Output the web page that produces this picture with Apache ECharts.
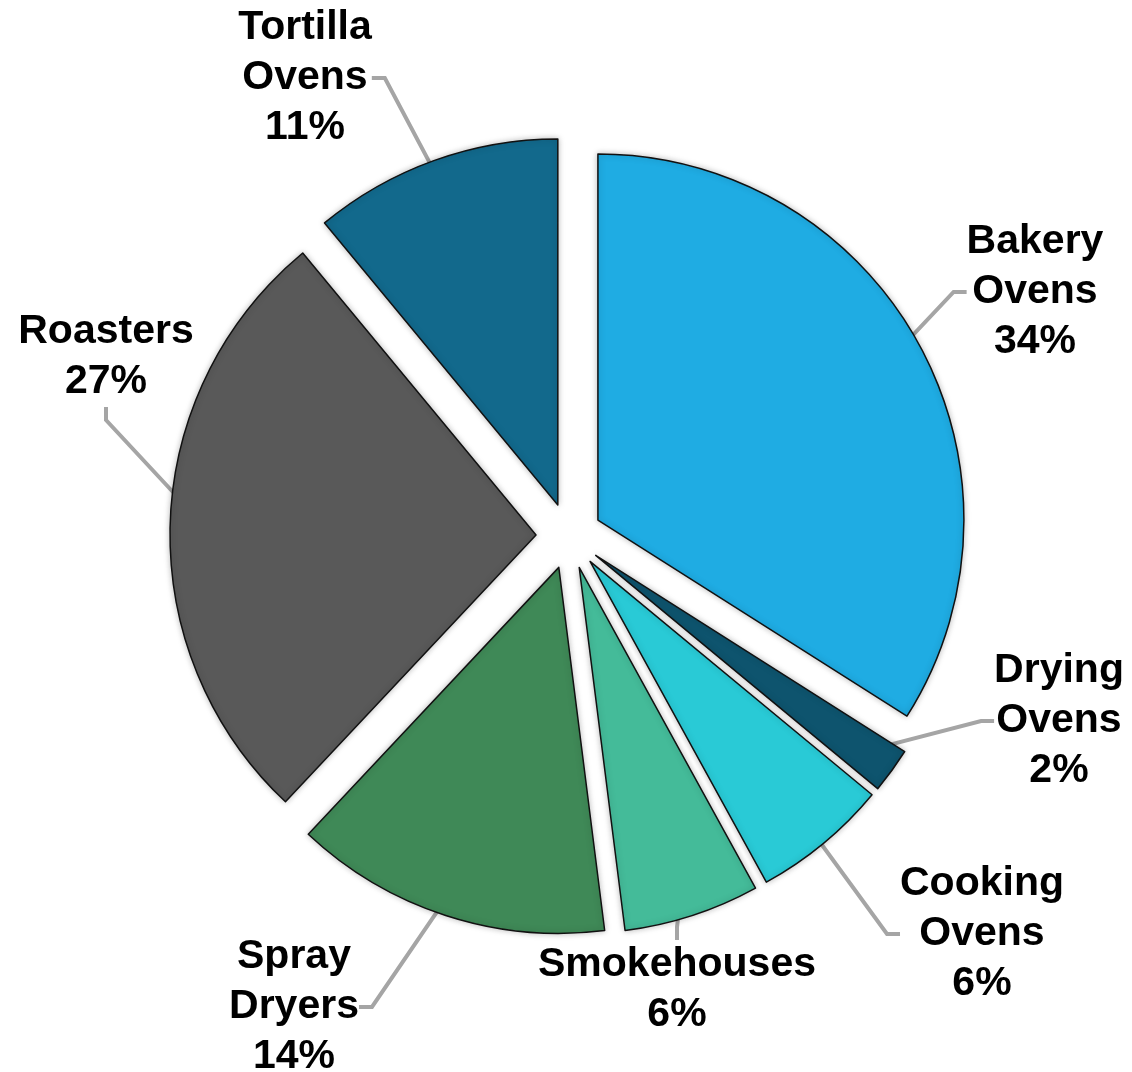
<!DOCTYPE html>
<html>
<head>
<meta charset="utf-8">
<script src="https://cdn.jsdelivr.net/npm/echarts@6/dist/echarts.min.js"></script>
<style>
  html, body { margin: 0; padding: 0; background: #fff; }
  #main { width: 1132px; height: 1072px; }
</style>
</head>
<body>
<div id="main"></div>
<script>
// slices clockwise from 12 o'clock
const categories = ['Bakery\nOvens', 'Drying\nOvens', 'Cooking\nOvens', 'Smokehouses', 'Spray\nDryers', 'Roasters', 'Tortilla\nOvens'];
const shares = [34, 2, 6, 6, 14, 27, 11];
const colors = ['#1FACE3', '#0E546E', '#29CAD6', '#44BB99', '#3F8957', '#595959', '#12698C'];
// label centres (px)
const labelPos = [[1035, 292], [1059, 721], [982, 934], [677, 990], [294, 1007], [106, 357], [305, 78]];

const chart = echarts.init(document.getElementById('main'));

const center = [569, 536];
const radius = 366;

// exploded slices (selected state gives the offset)
const pieData = categories.map(function (name, i) {
  return { name: name, value: shares[i], selected: true, itemStyle: { color: colors[i] } };
});
// same slices, unexploded and invisible, carrying the labels and leader lines
const labelData = categories.map(function (name, i) {
  return { name: name, value: shares[i] };
});

chart.setOption({
  animation: false,
  series: [
    {
      type: 'pie',
      z: 3,
      center: center,
      radius: radius,
      startAngle: 90,
      clockwise: true,
      selectedMode: 'multiple',
      selectedOffset: 33,
      itemStyle: {
        borderColor: '#111',
        borderWidth: 1.5,
        shadowBlur: 6,
        shadowColor: 'rgba(0,0,0,0.25)'
      },
      select: { itemStyle: { borderColor: '#111', borderWidth: 1.5 } },
      emphasis: { disabled: true },
      label: { show: false },
      labelLine: { show: false },
      data: pieData
    },
    {
      type: 'pie',
      z: 1,
      silent: true,
      center: center,
      radius: radius,
      startAngle: 90,
      clockwise: true,
      avoidLabelOverlap: false,
      itemStyle: { color: 'rgba(0,0,0,0)', borderWidth: 0 },
      emphasis: { disabled: true },
      label: {
        show: true,
        position: 'outside',
        formatter: '{b}\n{d}%',
        fontFamily: 'Liberation Sans, Arial, sans-serif',
        fontWeight: 'bold',
        fontSize: 41,
        lineHeight: 50,
        color: '#000',
        align: 'center'
      },
      labelLine: {
        show: true,
        length: 20,
        length2: 13,
        lineStyle: { color: '#A5A5A5', width: 4 }
      },
      labelLayout: function (params) {
        const p = labelPos[params.dataIndex];
        return { x: p[0], y: p[1], align: 'center', verticalAlign: 'middle' };
      },
      data: labelData
    }
  ]
});
</script>
</body>
</html>
